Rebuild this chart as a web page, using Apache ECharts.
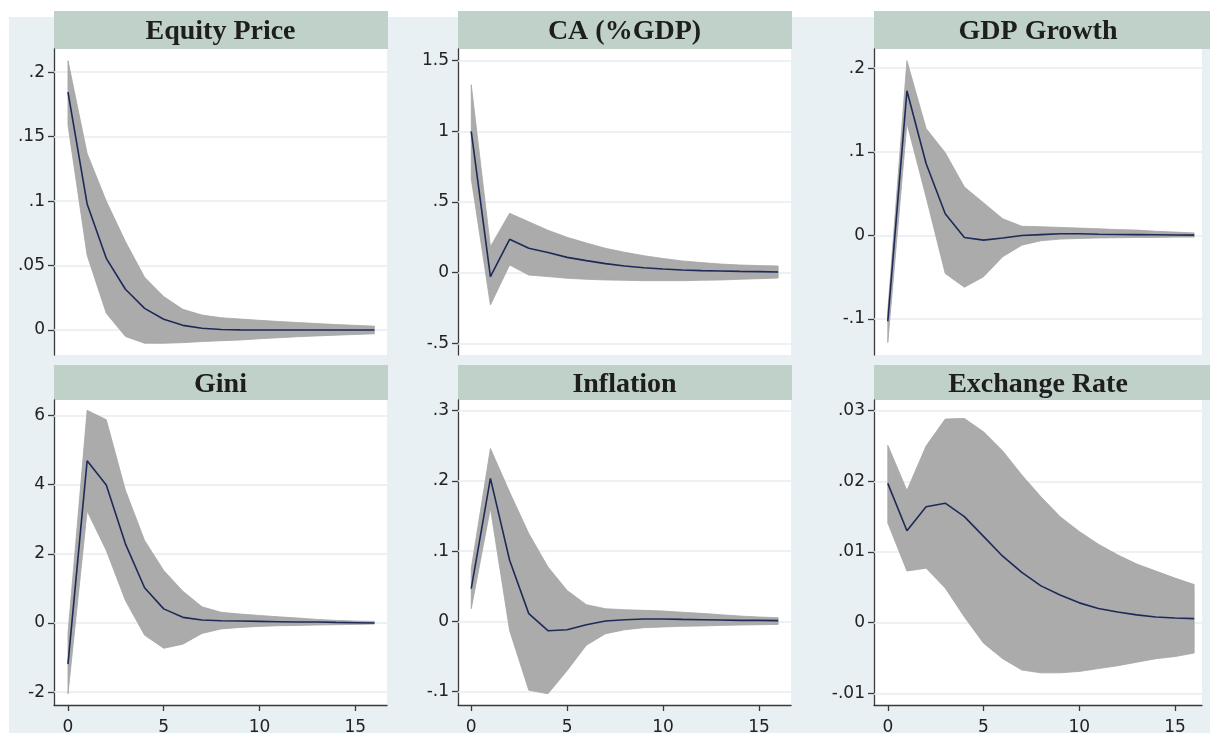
<!DOCTYPE html>
<html><head><meta charset="utf-8">
<script src="https://cdn.jsdelivr.net/npm/echarts@6/dist/echarts.min.js"></script>
<style>html,body{margin:0;padding:0;background:#fff}#c{width:1210px;height:733px}</style>
</head><body><div id="c"></div>
<script>
// ---------- DATA ----------
const horizon = [0,1,2,3,4,5,6,7,8,9,10,11,12,13,14,15,16];

const equityMean  = [0.1845,0.0978,0.0556,0.0316,0.0168,0.0083,0.0036,0.0013,0.0004,0.0001,0,0,0,0,0,0,0];
const equityUpper = [0.209,0.137,0.100,0.0686,0.041,0.0259,0.016,0.0116,0.0095,0.0085,0.0075,0.0066,0.0058,0.005,0.0042,0.0036,0.003];
const equityLower = [0.159,0.058,0.013,-0.005,-0.0103,-0.0103,-0.0098,-0.009,-0.0083,-0.0078,-0.0068,-0.006,-0.0052,-0.0046,-0.004,-0.0035,-0.003];

const caMean  = [1.0,-0.028,0.236,0.172,0.142,0.108,0.085,0.064,0.047,0.035,0.026,0.019,0.014,0.012,0.009,0.007,0.005];
const caUpper = [1.33,0.184,0.42,0.36,0.30,0.25,0.21,0.172,0.144,0.12,0.10,0.083,0.071,0.061,0.054,0.05,0.047];
const caLower = [0.667,-0.229,0.054,-0.017,-0.028,-0.04,-0.047,-0.052,-0.054,-0.057,-0.057,-0.057,-0.054,-0.052,-0.047,-0.043,-0.038];

const gdpMean  = [-0.1026,0.173,0.086,0.026,-0.0024,-0.0056,-0.003,0.0,0.001,0.002,0.002,0.0015,0.0012,0.001,0.0008,0.0006,0.0004];
const gdpUpper = [-0.09,0.209,0.128,0.099,0.058,0.039,0.020,0.011,0.0104,0.0096,0.0088,0.008,0.007,0.0064,0.005,0.004,0.003];
const gdpLower = [-0.128,0.134,0.046,-0.0455,-0.062,-0.0495,-0.0255,-0.0116,-0.0064,-0.0044,-0.0036,-0.003,-0.0028,-0.0024,-0.0024,-0.002,-0.002];

const giniMean  = [-1.19,4.69,3.99,2.29,1.02,0.41,0.165,0.087,0.068,0.058,0.048,0.039,0.029,0.029,0.019,0.01,0.0];
const giniUpper = [-0.3,6.15,5.88,3.84,2.39,1.52,0.92,0.47,0.31,0.26,0.22,0.18,0.145,0.106,0.077,0.058,0.048];
const giniLower = [-2.05,3.24,2.1,0.65,-0.35,-0.73,-0.61,-0.30,-0.17,-0.126,-0.097,-0.077,-0.068,-0.058,-0.048,-0.039,-0.03];

const inflMean  = [0.0466,0.2035,0.087,0.011,-0.0133,-0.012,-0.0048,0.0005,0.0024,0.0033,0.0033,0.0028,0.0024,0.0019,0.0014,0.0014,0.001];
const inflUpper = [0.075,0.246,0.184,0.125,0.0775,0.044,0.0238,0.018,0.0166,0.0157,0.0147,0.013,0.0114,0.0095,0.0076,0.0062,0.0052];
const inflLower = [0.018,0.161,-0.013,-0.098,-0.103,-0.070,-0.034,-0.0176,-0.012,-0.009,-0.008,-0.007,-0.0066,-0.0057,-0.0052,-0.0048,-0.0043];

const fxMean  = [0.0197,0.0130,0.0164,0.0169,0.0150,0.0122,0.0094,0.0071,0.0052,0.0039,0.0028,0.0020,0.0015,0.0011,0.0008,0.00066,0.00057];
const fxUpper = [0.0251,0.0187,0.0250,0.0288,0.0289,0.0270,0.0243,0.0209,0.0178,0.0150,0.0129,0.0111,0.0096,0.0083,0.0073,0.0063,0.0054];
const fxLower = [0.0141,0.0073,0.0077,0.0049,0.0008,-0.0029,-0.0051,-0.0067,-0.0071,-0.0071,-0.0069,-0.0065,-0.0061,-0.0056,-0.0051,-0.0048,-0.0043];

const panelTitles = ['Equity Price','CA (%GDP)','GDP Growth','Gini','Inflation','Exchange Rate'];

const equityTicks = [0,0.05,0.1,0.15,0.2];      const equityTickLabels = ['0','.05','.1','.15','.2'];
const caTicks = [-0.5,0,0.5,1,1.5];             const caTickLabels = ['-.5','0','.5','1','1.5'];
const gdpTicks = [-0.1,0,0.1,0.2];              const gdpTickLabels = ['-.1','0','.1','.2'];
const giniTicks = [-2,0,2,4,6];                 const giniTickLabels = ['-2','0','2','4','6'];
const inflTicks = [-0.1,0,0.1,0.2,0.3];         const inflTickLabels = ['-.1','0','.1','.2','.3'];
const fxTicks = [-0.01,0,0.01,0.02,0.03];       const fxTickLabels = ['-.01','0','.01','.02','.03'];
const xTicks = [0,5,10,15];                     const xTickLabels = ['0','5','10','15'];

// ---------- LAYOUT / STYLE ----------
const BG = '#e8f0f3', STRIP = '#bfd1c9', BAND = '#ababab', LINE = '#1d2a58', AX = '#3a3a3a', GRIDC = '#e4ecf0';
const TICKFONT = '"DejaVu Sans", "Liberation Sans", Arial, sans-serif';
const cols = [
  {left:54, width:333, xmin:-0.73, xmax:16.66},
  {left:458, width:333, xmin:-0.69, xmax:16.67},
  {left:874, width:328, xmin:-0.72, xmax:16.41}
];
const rows = [
  {top:49, height:306, stripTop:11, stripH:38},
  {top:400, height:305, stripTop:365, stripH:35}
];
const panels = [
  {mean:equityMean, up:equityUpper, lo:equityLower, ymin:-0.0194, ymax:0.218, ticks:equityTicks, labels:equityTickLabels},
  {mean:caMean, up:caUpper, lo:caLower, ymin:-0.583, ymax:1.583, ticks:caTicks, labels:caTickLabels},
  {mean:gdpMean, up:gdpUpper, lo:gdpLower, ymin:-0.143, ymax:0.223, ticks:gdpTicks, labels:gdpTickLabels},
  {mean:giniMean, up:giniUpper, lo:giniLower, ymin:-2.37, ymax:6.45, ticks:giniTicks, labels:giniTickLabels},
  {mean:inflMean, up:inflUpper, lo:inflLower, ymin:-0.119, ymax:0.315, ticks:inflTicks, labels:inflTickLabels},
  {mean:fxMean, up:fxUpper, lo:fxLower, ymin:-0.01165, ymax:0.0315, ticks:fxTicks, labels:fxTickLabels}
];

const grid = [], xAxis = [], yAxis = [], series = [], graphic = [];
graphic.push({type:'rect', z:-100, silent:true, shape:{x:9, y:17, width:1201, height:716}, style:{fill:BG}});

panels.forEach((p, i) => {
  const r = rows[Math.floor(i/3)], c = cols[i%3];
  const bottomRow = i >= 3;
  grid.push({left:c.left, top:r.top, width:c.width, height:r.height, show:true, backgroundColor:'#ffffff', borderWidth:0,
    containLabel:false, outerBoundsMode:'none'});
  graphic.push({type:'rect', z:-50, silent:true,
    shape:{x:c.left, y:r.stripTop, width:(i%3===2 ? 1210 - c.left : c.width + 1), height:r.stripH}, style:{fill:STRIP}});
  graphic.push({type:'text', z:10, silent:true, x:c.left + c.width/2, y:r.stripTop + r.stripH/2 + 2,
    style:{text:panelTitles[i], fill:'#1e1e1e', font:'bold 28px "Liberation Serif", "Times New Roman", serif', align:'center', verticalAlign:'middle'}});
  xAxis.push({type:'value', gridIndex:i, min:c.xmin, max:c.xmax,
    axisLine:{show:bottomRow, onZero:false, lineStyle:{color:AX, width:1.3}},
    axisTick:{show:bottomRow, inside:false, length:6, customValues:xTicks, lineStyle:{color:AX, width:1.3}},
    axisLabel:{show:bottomRow, margin:14, customValues:xTicks, color:'#222', fontSize:17, fontFamily:TICKFONT,
      formatter:v => { const k = xTicks.indexOf(v); return k >= 0 ? xTickLabels[k] : ''; }},
    splitLine:{show:false}});
  yAxis.push({type:'value', gridIndex:i, min:p.ymin, max:p.ymax,
    axisLine:{show:true, onZero:false, lineStyle:{color:AX, width:1.3}},
    axisTick:{show:true, inside:false, length:6, customValues:p.ticks, lineStyle:{color:AX, width:1.3}},
    axisLabel:{show:true, margin:9, customValues:p.ticks, color:'#222', fontSize:17, fontFamily:TICKFONT,
      formatter:v => { const k = p.ticks.findIndex(t => Math.abs(t - v) < 1e-9); return k >= 0 ? p.labels[k] : ''; }},
    splitLine:{show:false}});
  // confidence band: one polygon built from the upper and lower arrays via the axis scales
  series.push({type:'custom', xAxisIndex:i, yAxisIndex:i, silent:true, z:2, clip:true,
    data:horizon.map((h,k) => [h, p.lo[k], p.up[k]]),
    renderItem:(params, api) => {
      if (params.dataIndex !== 0) return null;
      const pts = [];
      horizon.forEach((h,k) => pts.push(api.coord([h, p.up[k]])));
      for (let k = horizon.length - 1; k >= 0; k--) pts.push(api.coord([horizon[k], p.lo[k]]));
      return {type:'polygon', shape:{points:pts}, style:{fill:BAND, stroke:'#a4a4a4', lineWidth:0.8}};
    },
    encode:{x:0, y:[1,2]}});
  series.push({type:'line', xAxisIndex:i, yAxisIndex:i, symbol:'none', silent:true,
    lineStyle:{width:1.6, color:LINE}, data:horizon.map((h,k) => [h, p.mean[k]]), z:4,
    markLine:{silent:true, symbol:'none', label:{show:false}, lineStyle:{color:GRIDC, width:1.5, type:'solid'}, z:1,
      data:p.ticks.map(t => ({yAxis:t}))}});
});

const chart = echarts.init(document.getElementById('c'), null, {renderer:'canvas'});
chart.setOption({backgroundColor:'#ffffff', animation:false, grid, xAxis, yAxis, series, graphic});
</script></body></html>
